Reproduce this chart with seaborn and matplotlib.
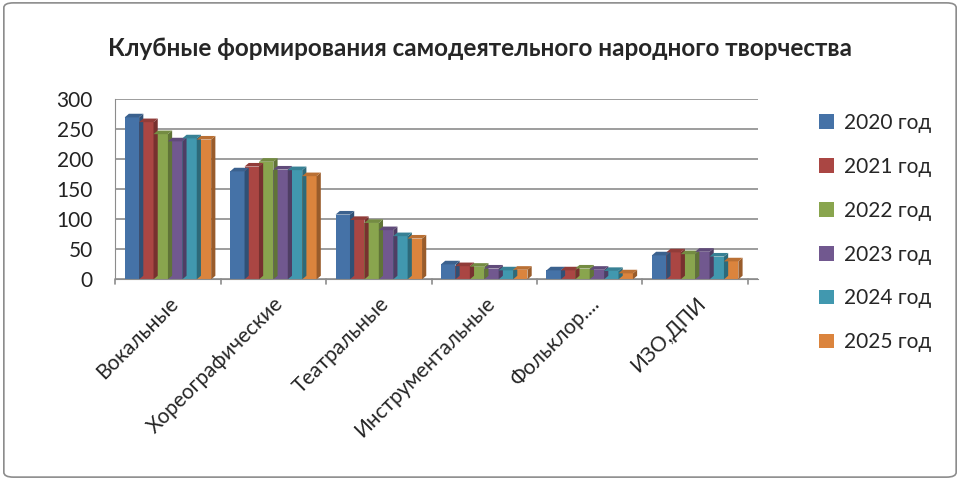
import pandas as pd
import seaborn as sns
import matplotlib.pyplot as plt
from matplotlib.patches import Polygon, FancyBboxPatch

categories = ["Вокальные", "Хореографические", "Театральные",
              "Инструментальные", "Фольклор....", "ИЗО,ДПИ"]
years = ["2020 год", "2021 год", "2022 год", "2023 год", "2024 год", "2025 год"]
values = {
    "2020 год": [270, 180, 108, 25, 15, 40],
    "2021 год": [262, 188, 99, 22, 15, 45],
    "2022 год": [242, 196, 94, 21, 18, 42],
    "2023 год": [230, 183, 82, 18, 16, 46],
    "2024 год": [235, 182, 72, 15, 14, 38],
    "2025 год": [233, 172, 68, 16, 10, 30],
}
colors = ["#4572A7", "#AA4643", "#89A54E", "#71588F", "#4198AF", "#DB843D"]

rows = []
for y in years:
    for c, v in zip(categories, values[y]):
        rows.append({"cat": c, "year": y, "value": v})
df = pd.DataFrame(rows)

sns.set_style("white")
plt.rcParams["font.family"] = ["Lato", "DejaVu Sans"]

fig = plt.figure(figsize=(9.6, 4.8), dpi=100)
ax = fig.add_axes([0.12, 0.418, 0.67, 0.375])

sns.barplot(data=df, x="cat", y="value", hue="year", palette=colors,
            width=0.82, gap=0.0, ax=ax, saturation=1, edgecolor="none")

# pseudo 3D side and top faces
dx, dy = 0.04, 6.0
for patch in list(ax.patches):
    x0, y0 = patch.get_x(), patch.get_y()
    w, h = patch.get_width(), patch.get_height()
    if w == 0:
        continue
    r, g, b, _ = patch.get_facecolor()
    side = Polygon([(x0 + w, y0), (x0 + w + dx, y0 + dy), (x0 + w + dx, y0 + h + dy), (x0 + w, y0 + h)],
                   closed=True, facecolor=(r * 0.7, g * 0.7, b * 0.7), edgecolor="none", zorder=patch.get_zorder())
    top = Polygon([(x0, y0 + h), (x0 + dx, y0 + h + dy), (x0 + w + dx, y0 + h + dy), (x0 + w, y0 + h)],
                  closed=True, facecolor=(r * 0.85, g * 0.85, b * 0.85), edgecolor="none", zorder=patch.get_zorder())
    ax.add_patch(side)
    ax.add_patch(top)

ax.set_ylim(0, 300)
ax.set_xlim(-0.5, 5.6)
ax.set_yticks(range(0, 301, 50))
ax.yaxis.grid(True, color="#8c8c8c", linewidth=1.2)
ax.set_axisbelow(True)
for s in ["top", "right"]:
    ax.spines[s].set_visible(False)
ax.spines["left"].set_color("#8c8c8c")
ax.spines["bottom"].set_color("#8c8c8c")
ax.set_xlabel("")
ax.set_ylabel("")
ax.tick_params(axis="y", labelsize=15, colors="#222222", length=0, pad=16)
ax.set_xticks(range(len(categories)))
ax.set_xticklabels(categories, rotation=45, ha="right", rotation_mode="anchor", fontsize=15)
ax.tick_params(axis="x", length=0, pad=10)
for xb in [i - 0.5 for i in range(len(categories) + 1)]:
    ax.plot([xb, xb], [0, -8], color="#8c8c8c", lw=1.2, clip_on=False)

ax.legend(loc="center left", bbox_to_anchor=(1.065, 0.26), frameon=False, fontsize=15,
          labelspacing=1.15, handlelength=0.7, handleheight=0.7, handletextpad=0.5)

fig.text(0.5, 0.9, "Клубные формирования самодеятельного народного творчества",
         ha="center", va="center", fontsize=17.5, fontweight="bold")

border = FancyBboxPatch((0.004, 0.006), 0.992, 0.988, boxstyle="round,pad=0,rounding_size=0.01",
                        transform=fig.transFigure, facecolor="none", edgecolor="#8c8c8c", lw=1.2)
fig.patches.append(border)

fig.savefig("out.png", dpi=100)
